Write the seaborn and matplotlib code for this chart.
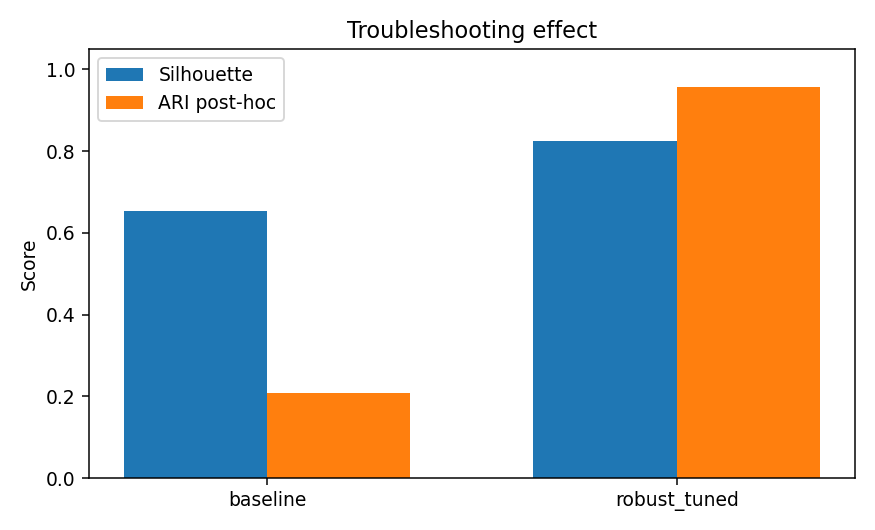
import matplotlib
matplotlib.use("Agg")
import matplotlib.pyplot as plt
import seaborn as sns
import pandas as pd

methods = ["baseline", "robust_tuned"]
silhouette = [0.654, 0.826]
ari_posthoc = [0.208, 0.956]
metric_names = ["Silhouette", "ARI post-hoc"]
colors = ["#1f77b4", "#ff7f0e"]

df = pd.DataFrame({
    "method": methods * 2,
    "metric": [metric_names[0]] * len(methods) + [metric_names[1]] * len(methods),
    "score": silhouette + ari_posthoc,
})

DPI = 135
fig, ax = plt.subplots(figsize=(875 / DPI, 530 / DPI), dpi=DPI)
sns.barplot(data=df, x="method", y="score", hue="metric", order=methods,
            hue_order=metric_names, palette=colors, saturation=1,
            width=0.7, linewidth=0, errorbar=None, ax=ax)
ax.set_xlim(-0.435, 1.435)
ax.set_ylim(0, 1.05)
ax.set_title("Troubleshooting effect")
ax.set_ylabel("Score")
ax.set_xlabel("")
ax.legend(title=None, loc="upper left")
fig.subplots_adjust(left=0.1017, right=0.977, bottom=0.0981, top=0.9075)
fig.savefig("out.png", dpi=DPI)
